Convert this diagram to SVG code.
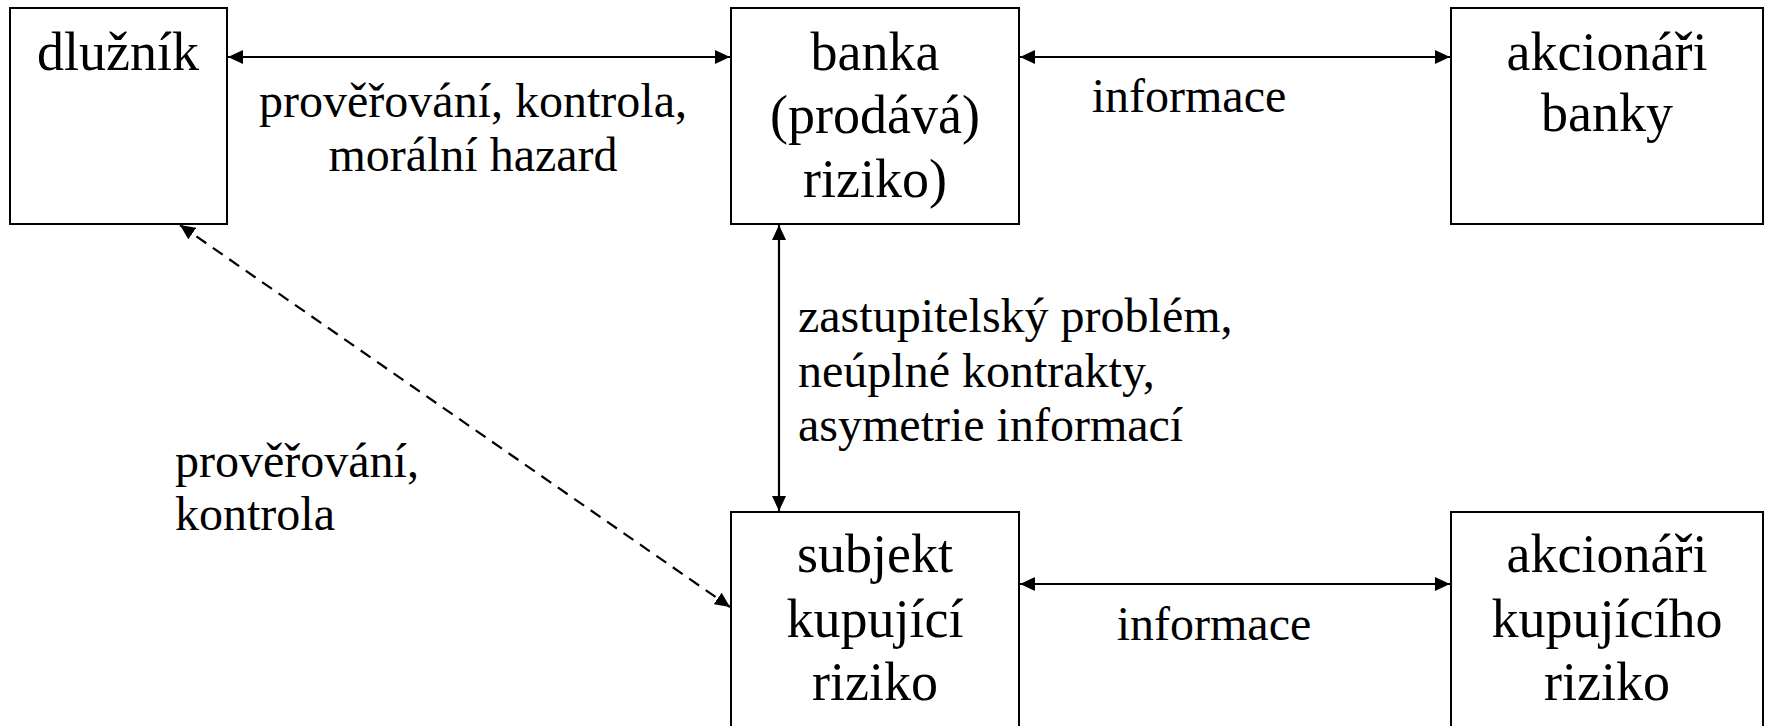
<svg xmlns="http://www.w3.org/2000/svg" width="1765" height="726" viewBox="0 0 1765 726">
<style>
.box{fill:#fff;stroke:#000;stroke-width:2}
.big{font-family:"Liberation Serif","Times New Roman",serif;font-size:54px;fill:#000;text-anchor:middle}
.lbl{font-family:"Liberation Serif","Times New Roman",serif;font-size:48px;fill:#000}
.c{stroke:#000;stroke-width:2.2;fill:none}
.d{stroke-dasharray:12 8}
</style>
<defs>
<marker id="ah" markerUnits="userSpaceOnUse" markerWidth="16" markerHeight="14" refX="15" refY="7" orient="auto-start-reverse">
<path d="M0,0 L15,7 L0,14 Z" fill="#000"/>
</marker>
</defs>
<rect width="1765" height="726" fill="#fff"/>
<g id="connectors">
<line class="c" x1="228" y1="57" x2="730" y2="57" marker-start="url(#ah)" marker-end="url(#ah)"/>
<line class="c" x1="1020" y1="57" x2="1450" y2="57" marker-start="url(#ah)" marker-end="url(#ah)"/>
<line class="c" x1="1020" y1="584" x2="1450" y2="584" marker-start="url(#ah)" marker-end="url(#ah)"/>
<line class="c" x1="779" y1="225" x2="779" y2="511" marker-start="url(#ah)" marker-end="url(#ah)"/>
<line class="c d" x1="180" y1="225" x2="730" y2="607" marker-start="url(#ah)" marker-end="url(#ah)"/>
</g>
<g id="dluznik">
<rect class="box" x="10" y="8" width="217" height="216"/>
<text class="big" x="118" y="70">dlužník</text>
</g>
<g id="banka">
<rect class="box" x="731" y="8" width="288" height="216"/>
<text class="big" x="875" y="70">banka</text>
<text class="big" x="875" y="133">(prodává)</text>
<text class="big" x="875" y="197">riziko)</text>
</g>
<g id="akcionari-banky">
<rect class="box" x="1451" y="8" width="312" height="216"/>
<text class="big" x="1607" y="70">akcionáři</text>
<text class="big" x="1607" y="131">banky</text>
</g>
<g id="subjekt">
<rect class="box" x="731" y="512" width="288" height="220"/>
<text class="big" x="875" y="572">subjekt</text>
<text class="big" x="875" y="637">kupující</text>
<text class="big" x="875" y="700">riziko</text>
</g>
<g id="akcionari-kupujiciho">
<rect class="box" x="1451" y="512" width="312" height="220"/>
<text class="big" x="1607" y="572">akcionáři</text>
<text class="big" x="1607" y="637">kupujícího</text>
<text class="big" x="1607" y="700">riziko</text>
</g>
<g id="labels">
<text class="lbl" x="473" y="117" text-anchor="middle">prověřování, kontrola,</text>
<text class="lbl" x="473" y="171" text-anchor="middle">morální hazard</text>
<text class="lbl" x="1189" y="112" text-anchor="middle">informace</text>
<text class="lbl" x="1214" y="640" text-anchor="middle">informace</text>
<text class="lbl" x="798" y="332">zastupitelský problém,</text>
<text class="lbl" x="798" y="387">neúplné kontrakty,</text>
<text class="lbl" x="798" y="441">asymetrie informací</text>
<text class="lbl" x="175" y="477">prověřování,</text>
<text class="lbl" x="175" y="530">kontrola</text>
</g>
</svg>
